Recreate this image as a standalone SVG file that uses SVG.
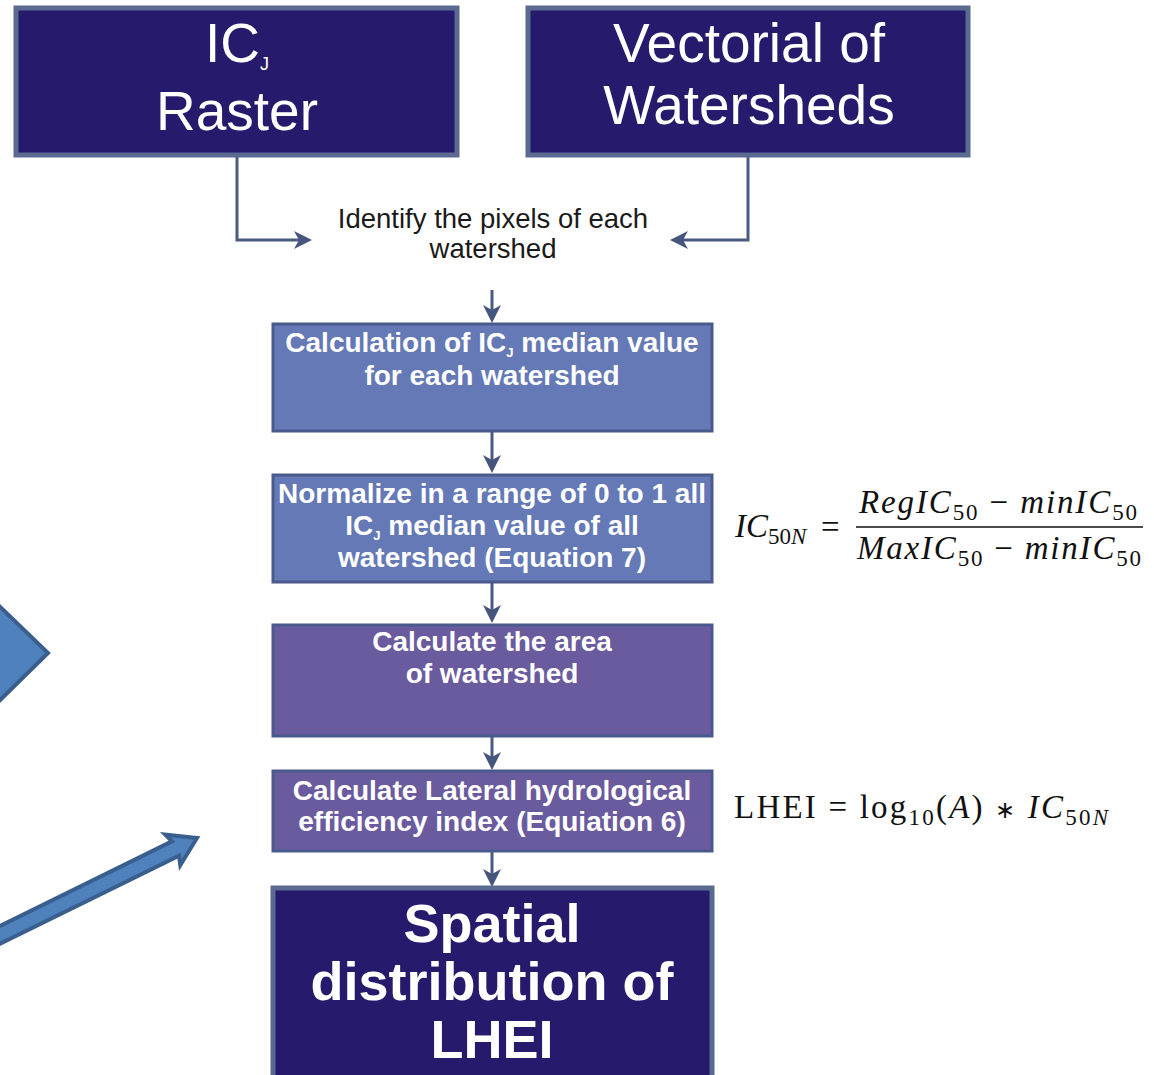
<svg xmlns="http://www.w3.org/2000/svg" width="1154" height="1075" viewBox="0 0 1154 1075">
<defs>
<style>
.dark{fill:#251a6b;stroke:#5b6a90;stroke-width:5}
.blue{fill:#6479b6;stroke:#4a5a8c;stroke-width:3}
.purp{fill:#6a5b9f;stroke:#4a5a8c;stroke-width:3}
.big{font-family:"Liberation Sans",Arial,sans-serif;font-size:55px;fill:#ffffff;text-anchor:middle}
.bold{font-family:"Liberation Sans",Arial,sans-serif;font-size:28px;font-weight:bold;fill:#ffffff;text-anchor:middle}
.huge{font-family:"Liberation Sans",Arial,sans-serif;font-size:54px;font-weight:bold;fill:#ffffff;text-anchor:middle}
.plain{font-family:"Liberation Sans",Arial,sans-serif;font-size:27.5px;fill:#1a1a1a;text-anchor:middle}
.eq{font-family:"Liberation Serif","Times New Roman",serif;font-size:33px;fill:#111111}
.conn{fill:none;stroke:#4a5a80;stroke-width:3}
</style>
</defs>
<rect width="1154" height="1075" fill="#ffffff"/>

<g id="left-shapes">
<polygon points="-10,597 48,653 -10,710" fill="#4f81bd" stroke="#3a5f8f" stroke-width="4"/>
<g transform="translate(197,838) rotate(-26.2)">
<polygon points="0,0 -27,-17 -24,-8 -260,-8 -260,8 -24,8 -27,17" fill="#4f81bd" stroke="#3a5f8f" stroke-width="4" stroke-linejoin="miter"/>
</g>
</g>

<g id="connectors">
<path class="conn" d="M237,157 V240 H300"/>
<path d="M312,240 L294,231 L299,240 L294,249 Z" fill="#46557d"/>
<path class="conn" d="M748,157 V240 H682"/>
<path d="M670,240 L688,231 L683,240 L688,249 Z" fill="#46557d"/>
<path class="conn" d="M492,290 V312"/>
<path d="M492,323 L483,305 L492,310 L501,305 Z" fill="#46557d"/>
<path class="conn" d="M492,432 V462"/>
<path d="M492,473 L483,455 L492,460 L501,455 Z" fill="#46557d"/>
<path class="conn" d="M492,583 V612"/>
<path d="M492,623 L483,605 L492,610 L501,605 Z" fill="#46557d"/>
<path class="conn" d="M492,737 V759"/>
<path d="M492,770 L483,752 L492,757 L501,752 Z" fill="#46557d"/>
<path class="conn" d="M492,852 V876"/>
<path d="M492,887 L483,869 L492,874 L501,869 Z" fill="#46557d"/>
</g>

<g id="node-icj-raster">
<rect class="dark" x="16" y="8" width="441" height="147"/>
<text class="big" x="237" y="62">IC<tspan font-size="18" dy="8">J</tspan></text>
<text class="big" x="237" y="130">Raster</text>
</g>

<g id="node-vectorial">
<rect class="dark" x="528" y="8" width="440" height="147"/>
<text class="big" x="749" y="62">Vectorial of</text>
<text class="big" x="749" y="124">Watersheds</text>
</g>

<g id="node-identify">
<text class="plain" x="493" y="228">Identify the pixels of each</text>
<text class="plain" x="493" y="258">watershed</text>
</g>

<g id="node-median">
<rect class="blue" x="273" y="324" width="439" height="107"/>
<text class="bold" x="492" y="352">Calculation of IC<tspan font-size="13" dy="5">J</tspan><tspan dy="-5"> median value</tspan></text>
<text class="bold" x="492" y="385">for each watershed</text>
</g>

<g id="node-normalize">
<rect class="blue" x="273" y="475" width="439" height="107"/>
<text class="bold" x="492" y="503">Normalize in a range of 0 to 1 all</text>
<text class="bold" x="492" y="535">IC<tspan font-size="13" dy="5">J</tspan><tspan dy="-5"> median value of all</tspan></text>
<text class="bold" x="492" y="567">watershed (Equation 7)</text>
</g>

<g id="node-area">
<rect class="purp" x="273" y="625" width="439" height="111"/>
<text class="bold" x="492" y="651">Calculate the area</text>
<text class="bold" x="492" y="683">of watershed</text>
</g>

<g id="node-lhei-calc">
<rect class="purp" x="273" y="771" width="439" height="80"/>
<text class="bold" x="492" y="800">Calculate Lateral hydrological</text>
<text class="bold" x="492" y="831">efficiency index (Equiation 6)</text>
</g>

<g id="node-spatial">
<rect class="dark" x="273" y="888" width="439" height="200" stroke-width="3"/>
<text class="huge" x="492" y="942">Spatial</text>
<text class="huge" x="492" y="1000">distribution of</text>
<text class="huge" x="492" y="1058">LHEI</text>
</g>

<g id="equation-7">
<text class="eq" x="735" y="537" font-style="italic">IC<tspan font-size="23" dy="7" font-style="normal">50</tspan><tspan font-size="23">N</tspan></text>
<text class="eq" x="821" y="538" font-size="36">=</text>
<line x1="856" y1="527" x2="1143" y2="527" stroke="#111111" stroke-width="1.5"/>
<text class="eq" x="859" y="513" textLength="278" lengthAdjust="spacing"><tspan font-style="italic">RegIC</tspan><tspan font-size="23" dy="7">50</tspan><tspan dy="-7"> − </tspan><tspan font-style="italic">minIC</tspan><tspan font-size="23" dy="7">50</tspan></text>
<text class="eq" x="857" y="559" textLength="284" lengthAdjust="spacing"><tspan font-style="italic">MaxIC</tspan><tspan font-size="23" dy="7">50</tspan><tspan dy="-7"> − </tspan><tspan font-style="italic">minIC</tspan><tspan font-size="23" dy="7">50</tspan></text>
</g>

<g id="equation-6">
<text class="eq" x="734" y="818" textLength="374" lengthAdjust="spacing">LHEI = log<tspan font-size="23" dy="7">10</tspan><tspan dy="-7">(</tspan><tspan font-style="italic">A</tspan>) <tspan font-size="24">∗</tspan> <tspan font-style="italic">IC</tspan><tspan font-size="23" dy="7">50</tspan><tspan font-size="23" font-style="italic">N</tspan></text>
</g>
</svg>
